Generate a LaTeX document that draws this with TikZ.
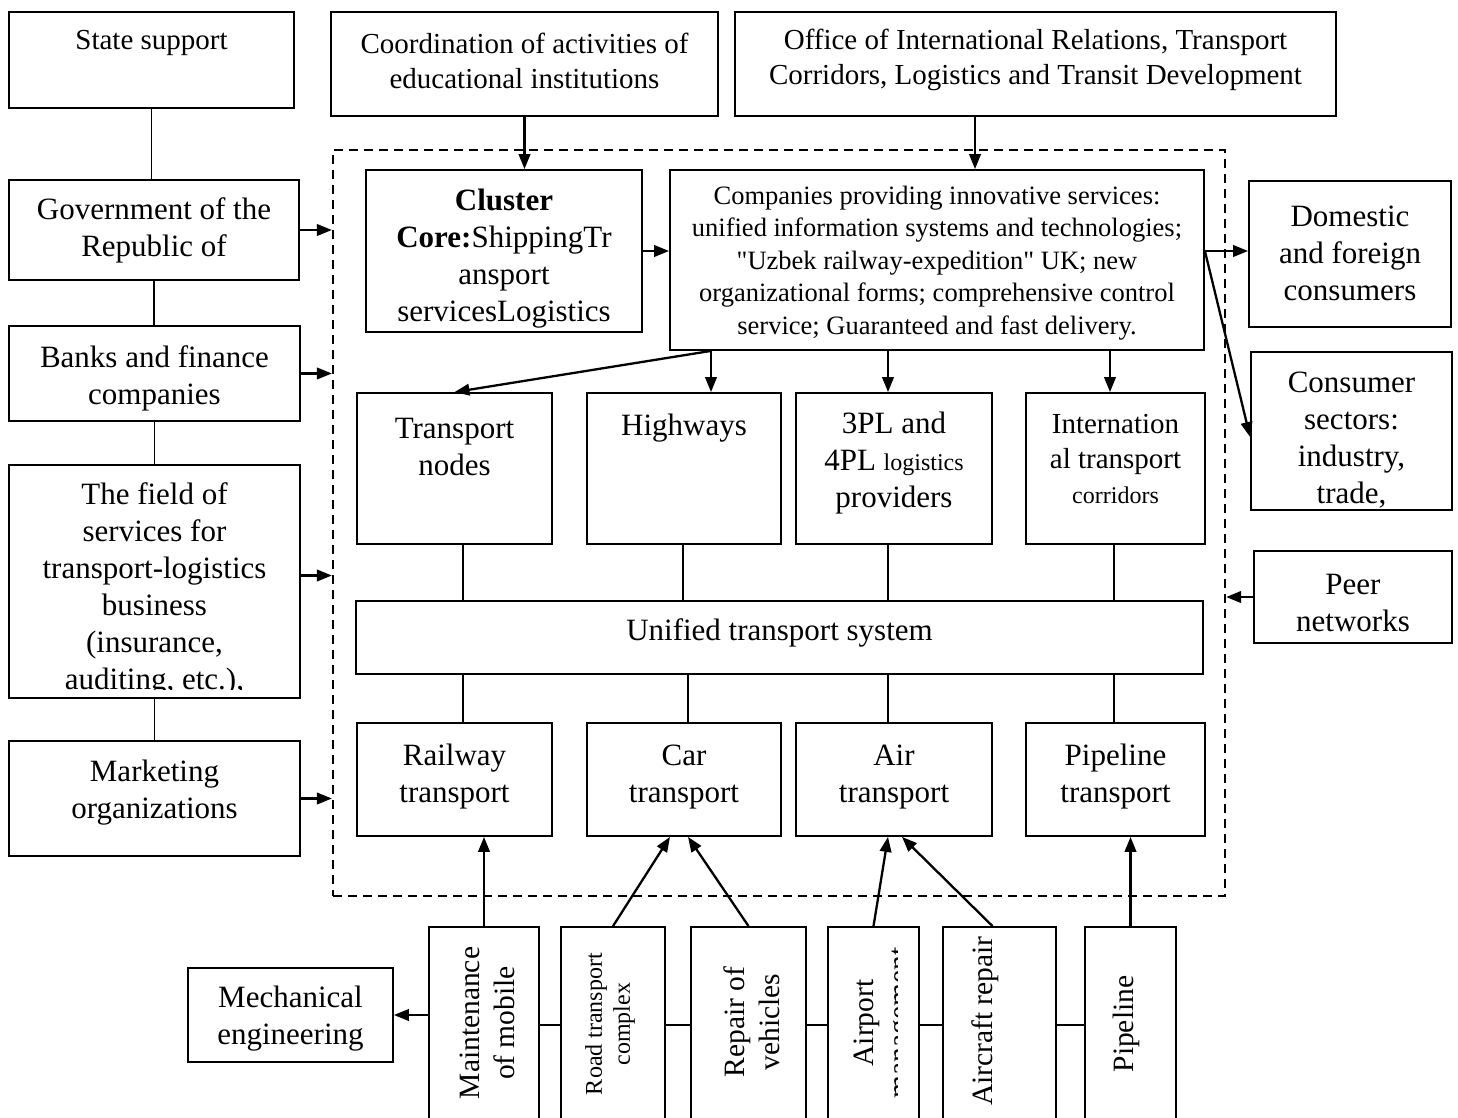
\documentclass[tikz,border=0pt]{standalone}
\usepackage{fontspec}
\setmainfont{Liberation Serif}
\usetikzlibrary{arrows.meta}
\newcommand\szA{\fontsize{31}{37}\selectfont}
\newcommand\szT{\fontsize{29}{35}\selectfont}
\newcommand\szC{\fontsize{26.5}{32.5}\selectfont}
\newcommand\szS{\fontsize{24}{28}\selectfont}
\newcommand\szR{\fontsize{29.5}{35}\selectfont}
\newcommand\sq{\XeTeXglyph\XeTeXcharglyph"22\relax}
% box macro: name, x1, y1, x2, y2
\newcommand\bx[5]{\node[box, minimum width={(#4)-(#2)}, minimum height={(#5)-(#3)}] (#1) at ({((#2)+(#4))/2},{((#3)+(#5))/2}) {};}
\begin{document}
\begin{tikzpicture}[x=1pt,y=-1pt,
  box/.style={draw, line width=1.8pt, inner sep=0pt},
  txt/.style={inner sep=0pt, align=center},
  ln/.style={line width=1.5pt},
  arr/.style={line width=2.3pt, -{Triangle[length=15pt,width=11.5pt]}},
  frm/.style={draw, line width=2.2pt, dash pattern=on 9pt off 6pt, inner sep=0pt}]
\useasboundingbox (0,0) rectangle (1458,1118);
\fill[white] (0,0) rectangle (1458,1118);
\clip (0,0) rectangle (1458,1118);

% dashed frame
\node[frm, minimum width=892, minimum height=746] (frame) at (779,523) {};

% left column
\bx{state}{9}{12}{294}{108}
\node[txt, font=\szT] (state-t) at (151.5,43) {State support};
\bx{gov}{9}{180}{299}{280}
\node[txt, font=\szA] (gov-t) at (154,230.5) {Government of the\\Republic of};
\bx{banks}{9}{326}{300}{421}
\node[txt, font=\szA] (banks-t) at (154.5,378.5) {Banks and finance\\companies};
\bx{field}{9}{465}{300}{698}
\begin{scope}
\clip (9,465) rectangle (300,689);
\node[txt, font=\szA] (field-t) at (154.5,589.5) {The field of\\services for\\transport-logistics\\business\\(insurance,\\auditing, etc.),};
\end{scope}
\bx{mkt}{9}{741}{300}{856}
\node[txt, font=\szA] (mkt-t) at (154.5,792.5) {Marketing\\organizations};

% top boxes
\bx{coord}{331}{12}{718}{116}
\node[txt, font=\szT] (coord-t) at (524.5,61) {Coordination of activities of\\educational institutions};
\bx{office}{735}{12}{1336}{116}
\node[txt, font=\szT] (office-t) at (1035.5,60) {Office of International Relations, Transport\\Corridors, Logistics and Transit Development};

% core and companies
\bx{core}{366}{170}{642}{332}
\begin{scope}
\clip (366,170) rectangle (642,327);
\node[txt, font=\szA] (core-t) at (504,259) {\textbf{Cluster}\\\textbf{Core:}ShippingTr\\ansport\\servicesLogistics};
\end{scope}
\bx{comp}{670}{170}{1204}{350}
\node[txt, font=\szC] (comp-t) at (937,263) {Companies providing innovative services:\\unified information systems and technologies;\\\sq Uzbek railway-expedition\sq{} UK; new\\organizational forms; comprehensive control\\service; Guaranteed and fast delivery.};

% right boxes
\bx{dom}{1249}{181}{1451}{327}
\node[txt, font=\szA] (dom-t) at (1350,253) {Domestic\\and foreign\\consumers};
\bx{cons}{1251}{352}{1452}{510}
\node[txt, font=\szA] (cons-t) at (1351.5,440.5) {Consumer\\sectors:\\industry,\\trade,};
\bx{peer}{1254}{551}{1452}{643}
\node[txt, font=\szA] (peer-t) at (1353,603) {Peer\\networks};

% upper row
\bx{tn}{357}{393}{552}{544}
\node[txt, font=\szA] (tn-t) at (454.5,446.5) {Transport\\nodes};
\bx{hw}{587}{393}{781}{544}
\node[txt, font=\szA] (hw-t) at (684,428) {Highways};
\bx{pl}{796}{393}{992}{544}
\node[txt, font=\szA] (pl-t) at (894,463.5) {3PL and\\4PL {\szS logistics}\\providers};
\bx{itc}{1026}{393}{1205}{544}
\node[txt, font=\szT] (itc-t) at (1115.5,459) {Internation\\al transport\\{\szS corridors}};

% unified
\bx{uts}{356}{601}{1203}{674}
\node[txt, font=\szA] (uts-t) at (779.5,633) {Unified transport system};

% lower row
\bx{rail}{357}{723}{552}{836}
\node[txt, font=\szA] (rail-t) at (454.5,777) {Railway\\transport};
\bx{car}{587}{723}{781}{836}
\node[txt, font=\szA] (car-t) at (684,777) {Car\\transport};
\bx{air}{796}{723}{992}{836}
\node[txt, font=\szA] (air-t) at (894,777) {Air\\transport};
\bx{pipe}{1026}{723}{1205}{836}
\node[txt, font=\szA] (pipe-t) at (1115.5,777) {Pipeline\\transport};

% bottom vertical boxes
\bx{mnt}{429}{927}{539}{1140}
\node[txt, font=\szR, rotate=90] (mnt-t) at (487,1023) {Maintenance\\of mobile};
\bx{rtc}{561}{927}{665}{1140}
\node[txt, font=\szS, rotate=90] (rtc-t) at (610,1024) {Road transport\\complex};
\bx{rep}{691}{927}{806}{1140}
\node[txt, font=\szR, rotate=90] (rep-t) at (751.5,1022) {Repair of\\vehicles};
\bx{apt}{828}{927}{919}{1140}
\begin{scope}
\clip (828,927) rectangle (897,1140);
\node[txt, font=\szR, rotate=90] (apt-t) at (884.5,1023) {Airport\\management};
\end{scope}
\bx{acr}{943}{927}{1056}{1140}
\node[txt, font=\szR, rotate=90] (acr-t) at (985,1021) {Aircraft repair};
\bx{pip}{1085}{927}{1176}{1140}
\node[txt, font=\szR, rotate=90] (pip-t) at (1126,1024) {Pipeline};

\bx{mech}{188}{968}{393}{1062}
\node[txt, font=\szA] (mech-t) at (290.5,1018.5) {Mechanical\\engineering};

% helper coordinates
\coordinate (xa) at (463,0);
\coordinate (xb) at (683,0);
\coordinate (xb2) at (688,0);
\coordinate (xc) at (888,0);
\coordinate (xd) at (1114,0);
\coordinate (ka) at (711,0);
\coordinate (kd) at (1110,0);
\coordinate (ko) at (975,0);
\coordinate (yj) at (0,251);
\coordinate (hy) at (0,1025);
\coordinate (cj) at (comp.east |- yj);

% left connectors
\draw[ln] (state.south) -- (state.south |- gov.north);
\draw[ln] (gov.south) -- (gov.south |- banks.north);
\draw[ln] (banks.south) -- (banks.south |- field.north);
\draw[ln] (field.south) -- (field.south |- mkt.north);
\draw[arr] (gov.east) -- (gov.east -| frame.west);
\draw[arr] (banks.east) -- (banks.east -| frame.west);
\draw[arr] ([yshift=6pt]field.east) -- ([yshift=6pt]field.east -| frame.west);
\draw[arr] (mkt.east) -- (mkt.east -| frame.west);
\draw[arr] (peer.west) -- (peer.west -| frame.east);

% top arrows
\draw[arr] (coord.south) -- (coord.south |- core.north);
\draw[arr] (office.south -| ko) -- (comp.north -| ko);
\draw[arr] (core.east) -- (core.east -| comp.west);
\draw[arr] (cj) -- (cj -| dom.west);
\draw[arr] (cj) -- ([yshift=-6pt]cons.west);

% companies to upper row
\draw[arr] (comp.south -| ka) -- (tn.north);
\draw[arr] (comp.south -| ka) -- (hw.north -| ka);
\draw[arr] (comp.south -| xc) -- (pl.north -| xc);
\draw[arr] (comp.south -| kd) -- (itc.north -| kd);

% upper row to unified
\draw[ln] (tn.south -| xa) -- (uts.north -| xa);
\draw[ln] (hw.south -| xb) -- (uts.north -| xb);
\draw[ln] (pl.south -| xc) -- (uts.north -| xc);
\draw[ln] (itc.south -| xd) -- (uts.north -| xd);
% unified to lower row
\draw[ln] (uts.south -| xa) -- (rail.north -| xa);
\draw[ln] (uts.south -| xb2) -- (car.north -| xb2);
\draw[ln] (uts.south -| xc) -- (air.north -| xc);
\draw[ln] (uts.south -| xd) -- (pipe.north -| xd);

% bottom arrows
\draw[arr] (mnt.north) -- (mnt.north |- rail.south);
\draw[arr] (rtc.north) -- ([xshift=-14pt]car.south);
\draw[arr] (rep.north) -- ([xshift=4pt]car.south);
\draw[arr] (apt.north) -- ([xshift=-6pt]air.south);
\draw[arr] ([xshift=-7pt]acr.north) -- ([xshift=8pt]air.south);
\draw[arr] (pip.north) -- (pip.north |- pipe.south);
\draw[arr] (mnt.west |- mech.east) -- (mech.east);

% bottom horizontal links
\draw[ln] (mnt.east |- hy) -- (rtc.west |- hy);
\draw[ln] (rtc.east |- hy) -- (rep.west |- hy);
\draw[ln] (rep.east |- hy) -- (apt.west |- hy);
\draw[ln] (apt.east |- hy) -- (acr.west |- hy);
\draw[ln] (acr.east |- hy) -- (pip.west |- hy);
\end{tikzpicture}
\end{document}
